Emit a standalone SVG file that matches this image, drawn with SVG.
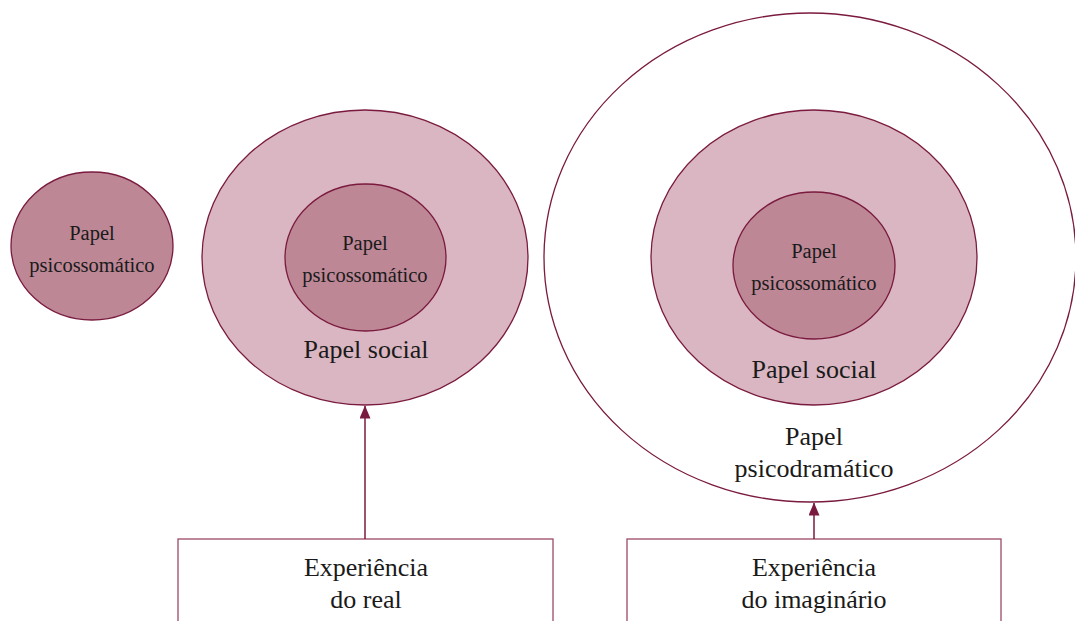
<svg xmlns="http://www.w3.org/2000/svg" width="1075" height="621" viewBox="0 0 1075 621">
<style>
.light{fill:#d9b6c1;stroke:#7a1a3e;stroke-width:1.3}
.dark{fill:#bd8796;stroke:#7a1a3e;stroke-width:1.3}
.outline{fill:none;stroke:#7a1a3e;stroke-width:1.3}
.box{fill:#fff;stroke:#9c4a66;stroke-width:1.3}
.conn{stroke:#7a1a3e;stroke-width:1.5;fill:none}
text{fill:#1a1a1a;text-anchor:middle}
.s{font-size:20.5px}
.l{font-size:26px}
</style>
<defs>
<marker id="arr" viewBox="0 0 13 11" refX="12.5" refY="5.5" markerWidth="13" markerHeight="11" markerUnits="userSpaceOnUse" orient="auto">
<path d="M0,0 L13,5.5 L0,11 z" fill="#7a1a3e"/>
</marker>
</defs>
<rect width="1075" height="621" fill="#fff"/>
<g font-family="'Liberation Serif', 'Times New Roman', Times, serif">
<g id="psicossomatico-solo">
<ellipse class="dark" cx="92" cy="246" rx="81" ry="74"/>
<text class="s" x="92" y="240">Papel</text>
<text class="s" x="92" y="272">psicossomático</text>
</g>
<g id="social-real">
<ellipse class="light" cx="365" cy="257.5" rx="163" ry="147.5"/>
<ellipse class="dark" cx="365.5" cy="257.5" rx="80.5" ry="73.5"/>
<text class="s" x="365" y="250">Papel</text>
<text class="s" x="365" y="282">psicossomático</text>
<text class="l" x="366" y="358">Papel social</text>
</g>
<g id="psicodramatico">
<ellipse class="outline" cx="810" cy="257.5" rx="266" ry="244.5"/>
<ellipse class="light" cx="814" cy="257.5" rx="163" ry="147.5"/>
<ellipse class="dark" cx="814" cy="265.5" rx="81" ry="73.5"/>
<text class="s" x="814" y="258">Papel</text>
<text class="s" x="814" y="290">psicossomático</text>
<text class="l" x="814" y="378">Papel social</text>
<text class="l" x="814" y="445">Papel</text>
<text class="l" x="814" y="477">psicodramático</text>
</g>
<g id="exp-real">
<rect class="box" x="178" y="539" width="375" height="100"/>
<text class="l" x="366" y="576">Experiência</text>
<text class="l" x="366" y="608">do real</text>
</g>
<g id="exp-imaginario">
<rect class="box" x="627" y="539" width="374" height="100"/>
<text class="l" x="814" y="576">Experiência</text>
<text class="l" x="814" y="608">do imaginário</text>
</g>
</g>
<g id="connectors">
<line class="conn" x1="365" y1="539" x2="365" y2="406" marker-end="url(#arr)"/>
<line class="conn" x1="814" y1="539" x2="814" y2="503" marker-end="url(#arr)"/>
</g>
</svg>
